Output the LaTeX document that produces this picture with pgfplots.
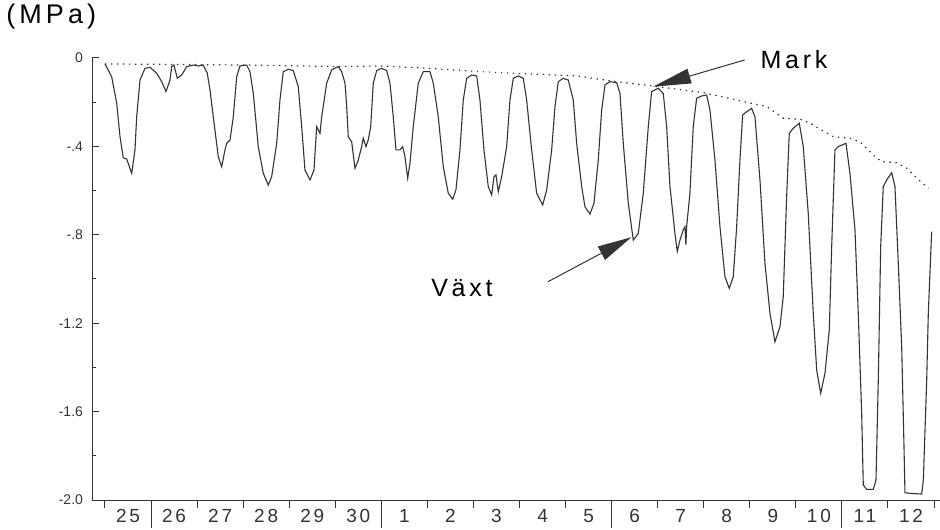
\documentclass[border=0pt]{standalone}
\usepackage{fontspec}
\setmainfont{Liberation Sans}
\usepackage{pgfplots}
\pgfplotsset{compat=1.18}
\usetikzlibrary{arrows.meta}

\definecolor{ink}{gray}{0.2}

\pgfplotstableread{
x      y
0.000 -0.027
0.145 -0.085
0.254 -0.204
0.326 -0.356
0.397 -0.452
0.471 -0.457
0.580 -0.522
0.651 -0.416
0.688 -0.266
0.760 -0.100
0.868 -0.047
0.977 -0.042
1.122 -0.069
1.231 -0.107
1.324 -0.152
1.411 -0.100
1.448 -0.039
1.498 -0.032
1.570 -0.092
1.665 -0.077
1.774 -0.039
1.917 -0.032
2.026 -0.036
2.134 -0.032
2.221 -0.069
2.280 -0.145
2.351 -0.266
2.460 -0.447
2.534 -0.492
2.605 -0.416
2.642 -0.386
2.714 -0.371
2.786 -0.266
2.859 -0.085
2.931 -0.036
3.076 -0.032
3.148 -0.062
3.220 -0.160
3.328 -0.401
3.437 -0.522
3.545 -0.575
3.619 -0.537
3.728 -0.386
3.799 -0.190
3.871 -0.062
3.980 -0.051
4.088 -0.057
4.197 -0.130
4.271 -0.311
4.342 -0.507
4.451 -0.552
4.538 -0.507
4.596 -0.311
4.668 -0.341
4.705 -0.266
4.813 -0.114
4.922 -0.054
5.030 -0.042
5.065 -0.039
5.139 -0.062
5.211 -0.114
5.248 -0.220
5.282 -0.356
5.356 -0.379
5.428 -0.499
5.499 -0.462
5.573 -0.401
5.608 -0.363
5.666 -0.401
5.716 -0.371
5.769 -0.311
5.825 -0.114
5.899 -0.057
6.007 -0.047
6.116 -0.057
6.188 -0.114
6.259 -0.266
6.318 -0.416
6.405 -0.416
6.463 -0.401
6.513 -0.447
6.572 -0.544
6.622 -0.476
6.693 -0.311
6.802 -0.114
6.911 -0.062
7.056 -0.062
7.128 -0.114
7.236 -0.266
7.345 -0.492
7.453 -0.612
7.549 -0.639
7.620 -0.597
7.707 -0.416
7.779 -0.190
7.853 -0.092
7.961 -0.077
8.070 -0.081
8.141 -0.190
8.228 -0.416
8.322 -0.582
8.396 -0.620
8.446 -0.537
8.489 -0.529
8.539 -0.605
8.613 -0.537
8.721 -0.401
8.793 -0.190
8.865 -0.092
8.973 -0.081
9.082 -0.092
9.155 -0.190
9.264 -0.416
9.372 -0.612
9.503 -0.665
9.590 -0.597
9.698 -0.416
9.770 -0.220
9.842 -0.107
9.950 -0.092
10.059 -0.100
10.167 -0.190
10.241 -0.386
10.350 -0.582
10.421 -0.673
10.530 -0.706
10.617 -0.657
10.710 -0.462
10.784 -0.235
10.856 -0.122
10.964 -0.107
11.110 -0.112
11.181 -0.160
11.253 -0.386
11.362 -0.657
11.470 -0.824
11.579 -0.794
11.687 -0.612
11.796 -0.311
11.869 -0.152
12.013 -0.137
12.121 -0.160
12.195 -0.311
12.267 -0.582
12.375 -0.794
12.425 -0.876
12.484 -0.824
12.555 -0.778
12.592 -0.763
12.613 -0.846
12.629 -0.763
12.700 -0.612
12.772 -0.311
12.846 -0.182
12.955 -0.172
13.063 -0.167
13.135 -0.235
13.244 -0.462
13.352 -0.763
13.461 -0.990
13.554 -1.042
13.641 -0.990
13.715 -0.763
13.786 -0.462
13.845 -0.258
13.932 -0.243
14.040 -0.228
14.112 -0.266
14.221 -0.552
14.329 -0.929
14.438 -1.155
14.546 -1.284
14.655 -1.216
14.726 -1.080
14.800 -0.628
14.857 -0.341
14.943 -0.318
15.074 -0.295
15.161 -0.401
15.269 -0.703
15.378 -1.155
15.452 -1.412
15.539 -1.517
15.632 -1.427
15.726 -1.231
15.778 -0.854
15.849 -0.416
15.921 -0.401
16.088 -0.386
16.175 -0.522
16.284 -0.778
16.355 -1.155
16.429 -1.608
16.464 -1.932
16.538 -1.952
16.681 -1.952
16.740 -1.910
16.790 -1.457
16.842 -0.854
16.898 -0.582
16.972 -0.552
17.081 -0.519
17.152 -0.582
17.224 -0.929
17.298 -1.306
17.348 -1.759
17.369 -1.967
17.478 -1.970
17.732 -1.973
17.768 -1.910
17.841 -1.457
17.876 -1.155
17.948 -0.786
}\vaxt

\pgfplotstableread{
x      y
0.00  -0.027
1.48  -0.029
3.15  -0.032
5.03  -0.039
5.97  -0.036
7.06  -0.047
8.14  -0.062
9.23  -0.072
10.24 -0.081
10.96 -0.103
11.90 -0.127
12.99 -0.157
14.04 -0.205
14.37 -0.220
14.73 -0.273
15.09 -0.277
15.31 -0.295
15.56 -0.326
15.81 -0.356
16.18 -0.363
16.39 -0.379
16.68 -0.439
16.86 -0.469
17.19 -0.474
17.41 -0.499
17.63 -0.544
17.88 -0.590
}\mark

\begin{document}
\begin{tikzpicture}[font=\addfontfeatures{LetterSpace=12}]
\useasboundingbox (0,0) rectangle (470pt,264.5pt);
\pgfplotsset{frame/.style={at={(46pt,14.5pt)},anchor=south west,
  width=424pt,height=221pt,scale only axis,
  xmin=-0.282,xmax=18.13,ymin=-2.0,ymax=0,clip=false,
  axis line style={ink,line width=0.5pt}}}
% day ticks under the time axis
\begin{axis}[frame,
  axis x line*=bottom,axis y line=none,
  tick align=outside,
  xtick={0.5,1.5,...,17.5},
  xticklabels={25,26,27,28,29,30,1,2,3,4,5,6,7,8,9,10,11,12},
  major tick length=0pt,
  minor xtick={0,1,...,18},minor tick length=4pt,
  extra x ticks={1,6,11,16},extra x tick labels={},
  extra x tick style={major tick length=14pt},
  tick style={ink,line width=0.5pt},
  xticklabel style={font=\fontsize{9.5}{10}\selectfont\addfontfeatures{LetterSpace=15},
    text=ink,yshift=-1pt}]
\end{axis}
% water potential
\begin{axis}[frame,
  axis x line*=bottom,axis y line*=left,
  xtick=\empty,
  tick align=inside,
  ytick={0,-0.4,-0.8,-1.2,-1.6,-2.0},
  yticklabels={0,-.4,-.8,-1.2,-1.6,-2.0},
  minor ytick={-0.2,-0.6,-1.0,-1.4,-1.8},
  major tick length=3.3pt,minor tick length=2pt,
  tick style={ink,line width=0.5pt},
  yticklabel style={font=\fontsize{7}{8}\selectfont,text=ink,xshift=-1pt}]
  \addplot[ink,line width=0.55pt] table[x=x,y=y]{\vaxt};
  \addplot[ink,line width=0.6pt,dash pattern=on 0.7pt off 2.3pt] table[x=x,y=y]{\mark};
  \draw[ink,line width=0.5pt,-{Triangle[length=19pt,width=7.5pt]}]
    (axis cs:13.89,-0.009) -- (axis cs:11.90,-0.130);
  \draw[ink,line width=0.5pt,-{Triangle[length=17pt,width=7.5pt]}]
    (axis cs:9.62,-1.012) -- (axis cs:11.43,-0.811);
  \node[font=\fontsize{12.5}{14}\selectfont\addfontfeatures{LetterSpace=15}]
    at (axis cs:14.96,-0.009) {Mark};
  \node[font=\fontsize{12.5}{14}\selectfont\addfontfeatures{LetterSpace=15}]
    at (axis cs:7.75,-1.041) {Växt};
\end{axis}
\node[anchor=north west,inner sep=0pt,
  font=\fontsize{13.5}{15}\selectfont\addfontfeatures{LetterSpace=15}]
  at (3pt,262.5pt) {(MPa)};
\end{tikzpicture}
\end{document}
